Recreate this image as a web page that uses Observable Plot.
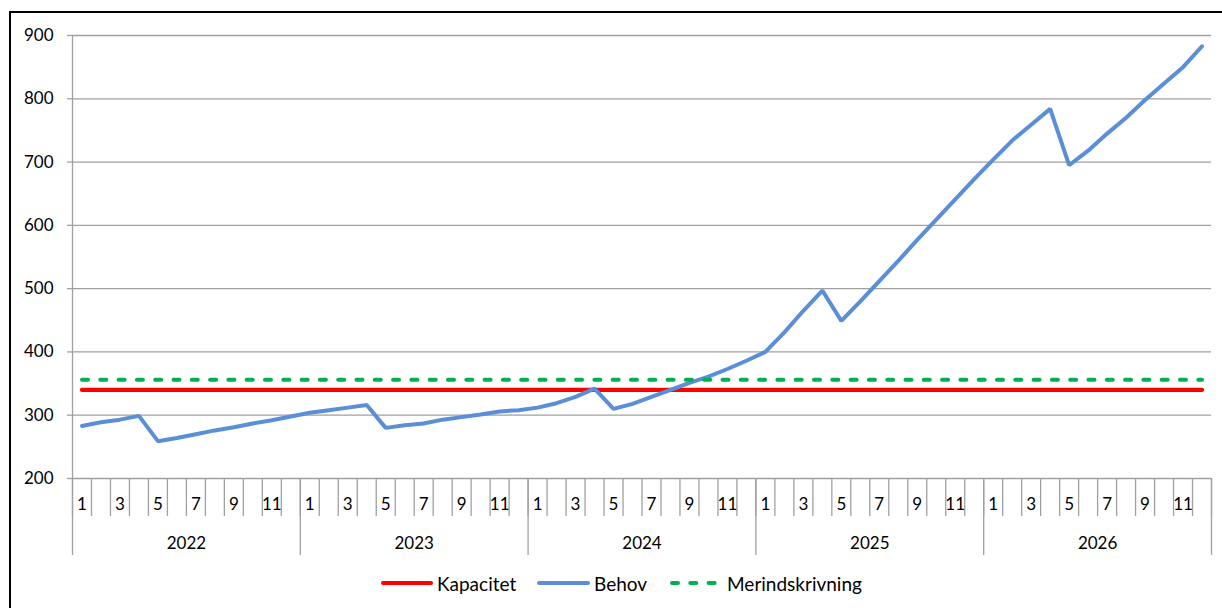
<!DOCTYPE html>
<html><head><meta charset="utf-8">
<script src="https://cdn.jsdelivr.net/npm/d3@7"></script>
<script src="https://cdn.jsdelivr.net/npm/@observablehq/plot@0.6"></script>
<style>
html,body{margin:0;padding:0;background:#fff;overflow:hidden;}
body{width:1222px;height:608px;position:relative;font-family:Lato,"Open Sans",sans-serif;}
#frame{position:absolute;left:9px;top:11px;width:1400px;height:800px;border:2.5px solid #000;box-sizing:border-box;}
#chart{position:absolute;left:0;top:0;}
#legend{position:absolute;top:571px;left:0;width:1222px;height:24px;font-size:19px;color:#000;}
.item{position:absolute;top:0;display:flex;align-items:center;height:24px;white-space:nowrap;}
.item svg{display:block;}
</style></head><body>
<div id="frame"></div>
<div id="chart"></div>
<div id="legend"></div>
<script>
// ---- data ----
const years = [2022, 2023, 2024, 2025, 2026];
const months = [1, 2, 3, 4, 5, 6, 7, 8, 9, 10, 11, 12];
const monthLabels = ["1", "", "3", "", "5", "", "7", "", "9", "", "11", ""];
const behov = [
  283, 289, 293, 299, 259, 264, 270, 276, 281, 287, 292, 298,
  304, 308, 312, 316, 280, 284, 287, 293, 297, 301, 306, 308,
  312, 319, 329, 342, 310, 318, 329, 340, 351, 361, 373, 386,
  400, 431, 465, 497, 449, 480, 512, 544, 577, 609, 641, 673,
  704, 734, 759, 784, 695, 718, 745, 770, 798, 824, 850, 883
];
const kapacitet = [340];
const merindskrivning = [356];
const yTicks = [200, 300, 400, 500, 600, 700, 800, 900];
const seriesNames = ["Kapacitet", "Behov", "Merindskrivning"];
const seriesColors = ["#ff0000", "#5a8ed6", "#00b050"];

// ---- table ----
const rows = years.flatMap((yr, yi) => months.map((m, mi) => ({
  i: yi * 12 + mi, year: yr, month: m,
  behov: behov[yi * 12 + mi],
  kapacitet: kapacitet[0],
  merind: merindskrivning[0]
})));
const N = rows.length;
const monthEdges = d3.range(0, N + 1);
const yearEdges = years.map((_, yi) => yi * 12).concat([N]);
const labelCenters = rows.filter(r => monthLabels[r.month - 1] !== "").map(r => r.i + 0.5);
const yearCenters = years.map((_, yi) => yi * 12 + 6);
const grid = "#a0a0a0";
const xc = d => d.i + 0.5;

const chart = Plot.plot({
  width: 1222, height: 565,
  marginLeft: 72, marginRight: 11, marginTop: 35, marginBottom: 87,
  style: {fontFamily: "Lato, 'Open Sans', sans-serif", fontSize: "17px", color: "#000", background: "transparent", overflow: "visible"},
  x: {type: "linear", domain: [0, N], axis: null},
  y: {domain: [200, 900], axis: null},
  marks: [
    Plot.gridY(yTicks.slice(1), {stroke: grid, strokeOpacity: 1, strokeWidth: 1.3}),
    Plot.axisY(yTicks, {anchor: "left", tickSize: 5, tickPadding: 14, stroke: grid, strokeOpacity: 1, strokeWidth: 1.3, fill: "#000", label: null}),
    Plot.ruleY([200], {stroke: grid, strokeWidth: 1.3}),
    Plot.ruleX([0], {stroke: grid, strokeWidth: 1.3}),
    Plot.axisX(monthEdges, {anchor: "bottom", tickSize: 38, tickFormat: () => "", stroke: grid, strokeOpacity: 1, strokeWidth: 1.3, label: null}),
    Plot.axisX(yearEdges, {anchor: "bottom", tickSize: 77, tickFormat: () => "", stroke: grid, strokeOpacity: 1, strokeWidth: 1.3, label: null}),
    Plot.axisX(labelCenters, {anchor: "bottom", tickSize: 0, tickPadding: 19, tickFormat: d => monthLabels[Math.floor(d) % 12], fill: "#000", label: null}),
    Plot.axisX(yearCenters, {anchor: "bottom", tickSize: 0, tickPadding: 58, tickFormat: d => String(years[Math.floor(d / 12)]), fill: "#000", label: null}),
    Plot.lineY(rows, {x: xc, y: "kapacitet", stroke: seriesColors[0], strokeWidth: 4.3, strokeLinecap: "round"}),
    Plot.lineY(rows, {x: xc, y: "behov", stroke: seriesColors[1], strokeWidth: 4, strokeLinecap: "round", strokeLinejoin: "miter"}),
    Plot.lineY(rows, {x: xc, y: "merind", stroke: seriesColors[2], strokeWidth: 4, strokeDasharray: "6,12.3", strokeLinecap: "round"})
  ]
});
document.getElementById("chart").appendChild(chart);

// ---- legend ----
const legendPos = [
  {sx: 381, sw: 52, gap: 4},
  {sx: 537, sw: 53, gap: 4},
  {sx: 670, sw: 47, gap: 10}
];
const legend = document.getElementById("legend");
seriesNames.forEach((name, k) => {
  const p = legendPos[k];
  const item = document.createElement("div");
  item.className = "item";
  item.style.left = p.sx + "px";
  const dash = k === 2 ? ' stroke-dasharray="6,12.3"' : "";
  item.innerHTML = `<svg width="${p.sw}" height="10"><line x1="2" y1="5" x2="${p.sw - 2}" y2="5" stroke="${seriesColors[k]}" stroke-width="4" stroke-linecap="round"${dash}/></svg><span style="margin-left:${p.gap}px">${name}</span>`;
  legend.appendChild(item);
});
</script>
</body></html>
